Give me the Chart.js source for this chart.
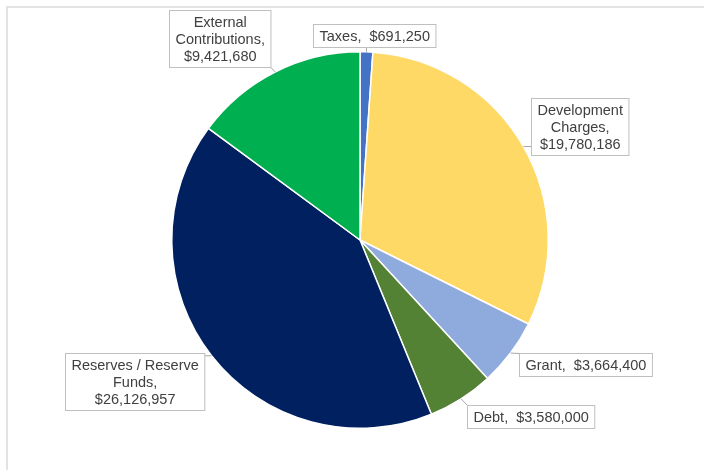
<!DOCTYPE html>
<html>
<head>
<meta charset="utf-8">
<script src="https://cdn.jsdelivr.net/npm/chart.js@4.4.0/dist/chart.umd.min.js"></script>
<style>
  body { margin: 0; background: #fff; }
  #wrap { position: relative; width: 704px; height: 470px; overflow: hidden; }
  #frame { position: absolute; left: 6px; top: 6px; width: 760px; height: 520px; border: 2px solid #e3e3e3; box-sizing: border-box; }
  canvas { position: absolute; left: 0; top: 0; }
</style>
</head>
<body>
<div id="wrap"><div id="frame"></div><canvas id="myChart" width="704" height="470"></canvas></div>
<script>
const categories = ['Taxes', 'Development Charges', 'Grant', 'Debt', 'Reserves / Reserve Funds', 'External Contributions'];
const amounts = [691250, 19780186, 3664400, 3580000, 26126957, 9421680];
const colours = ['#4472C4', '#FFD966', '#8FAADC', '#548235', '#002060', '#00B050'];

// where each callout box sits (centre) and how wide its text may run (0 = one line)
const callouts = [
  {x: 374, y: 35, wrap: 0},
  {x: 580, y: 126, wrap: 100},
  {x: 585, y: 364, wrap: 0},
  {x: 531, y: 416, wrap: 0},
  {x: 135, y: 381, wrap: 135},
  {x: 220, y: 38, wrap: 100}
];

const money = v => '$' + v.toLocaleString('en-US');

function calloutLines(ctx, name, value, wrap) {
  if (!wrap) return [name + ',  ' + money(value)];
  const words = (name + ',').split(' ');
  const lines = [];
  let cur = '';
  words.forEach(w => {
    const test = cur ? cur + ' ' + w : w;
    if (cur && ctx.measureText(test).width > wrap) {
      lines.push(cur);
      cur = w;
    } else {
      cur = test;
    }
  });
  lines.push(cur);
  lines.push(money(value));
  return lines;
}

const calloutPlugin = {
  id: 'callouts',
  afterDatasetsDraw(chart) {
    const ctx = chart.ctx;
    const meta = chart.getDatasetMeta(0);
    ctx.save();
    ctx.font = '14.5px "Liberation Sans", Arial, sans-serif';
    const lh = 17;
    meta.data.forEach((arc, i) => {
      const p = arc.getProps(['x', 'y', 'startAngle', 'endAngle', 'outerRadius'], true);
      const mid = (p.startAngle + p.endAngle) / 2;
      const ax = p.x + Math.cos(mid) * p.outerRadius;
      const ay = p.y + Math.sin(mid) * p.outerRadius;
      const c = callouts[i];
      const lines = calloutLines(ctx, categories[i], amounts[i], c.wrap);
      const w = Math.max(...lines.map(l => ctx.measureText(l).width)) + 12;
      const h = lines.length * lh + 6;
      const left = Math.round(c.x - w / 2) + 0.5, top = Math.round(c.y - h / 2) + 0.5;
      const px = Math.min(Math.max(ax, left), left + w);
      const py = Math.min(Math.max(ay, top), top + h);

      ctx.strokeStyle = '#a6a6a6';
      ctx.lineWidth = 1;
      ctx.beginPath();
      ctx.moveTo(ax, ay);
      ctx.lineTo(px, py);
      ctx.stroke();

      ctx.fillStyle = '#fff';
      ctx.fillRect(left, top, w, h);
      ctx.strokeStyle = '#bfbfbf';
      ctx.strokeRect(left, top, w, h);

      ctx.fillStyle = '#404040';
      ctx.textAlign = 'center';
      ctx.textBaseline = 'middle';
      lines.forEach((l, k) => {
        ctx.fillText(l, left + w / 2, top + 3 + lh / 2 + k * lh + 1);
      });
    });
    ctx.restore();
  }
};

let ctx = document.getElementById('myChart').getContext('2d');
let chart = new Chart(ctx, {
  type: 'pie',
  data: {
    labels: categories,
    datasets: [{
      data: amounts,
      backgroundColor: colours,
      borderColor: '#ffffff',
      borderWidth: 1.5,
      hoverOffset: 0
    }]
  },
  options: {
    responsive: false,
    animation: false,
    layout: { padding: { left: 171, right: 155, top: 51, bottom: 41 } },
    plugins: {
      legend: { display: false },
      tooltip: { enabled: false }
    }
  },
  plugins: [calloutPlugin]
});
</script>
</body>
</html>
